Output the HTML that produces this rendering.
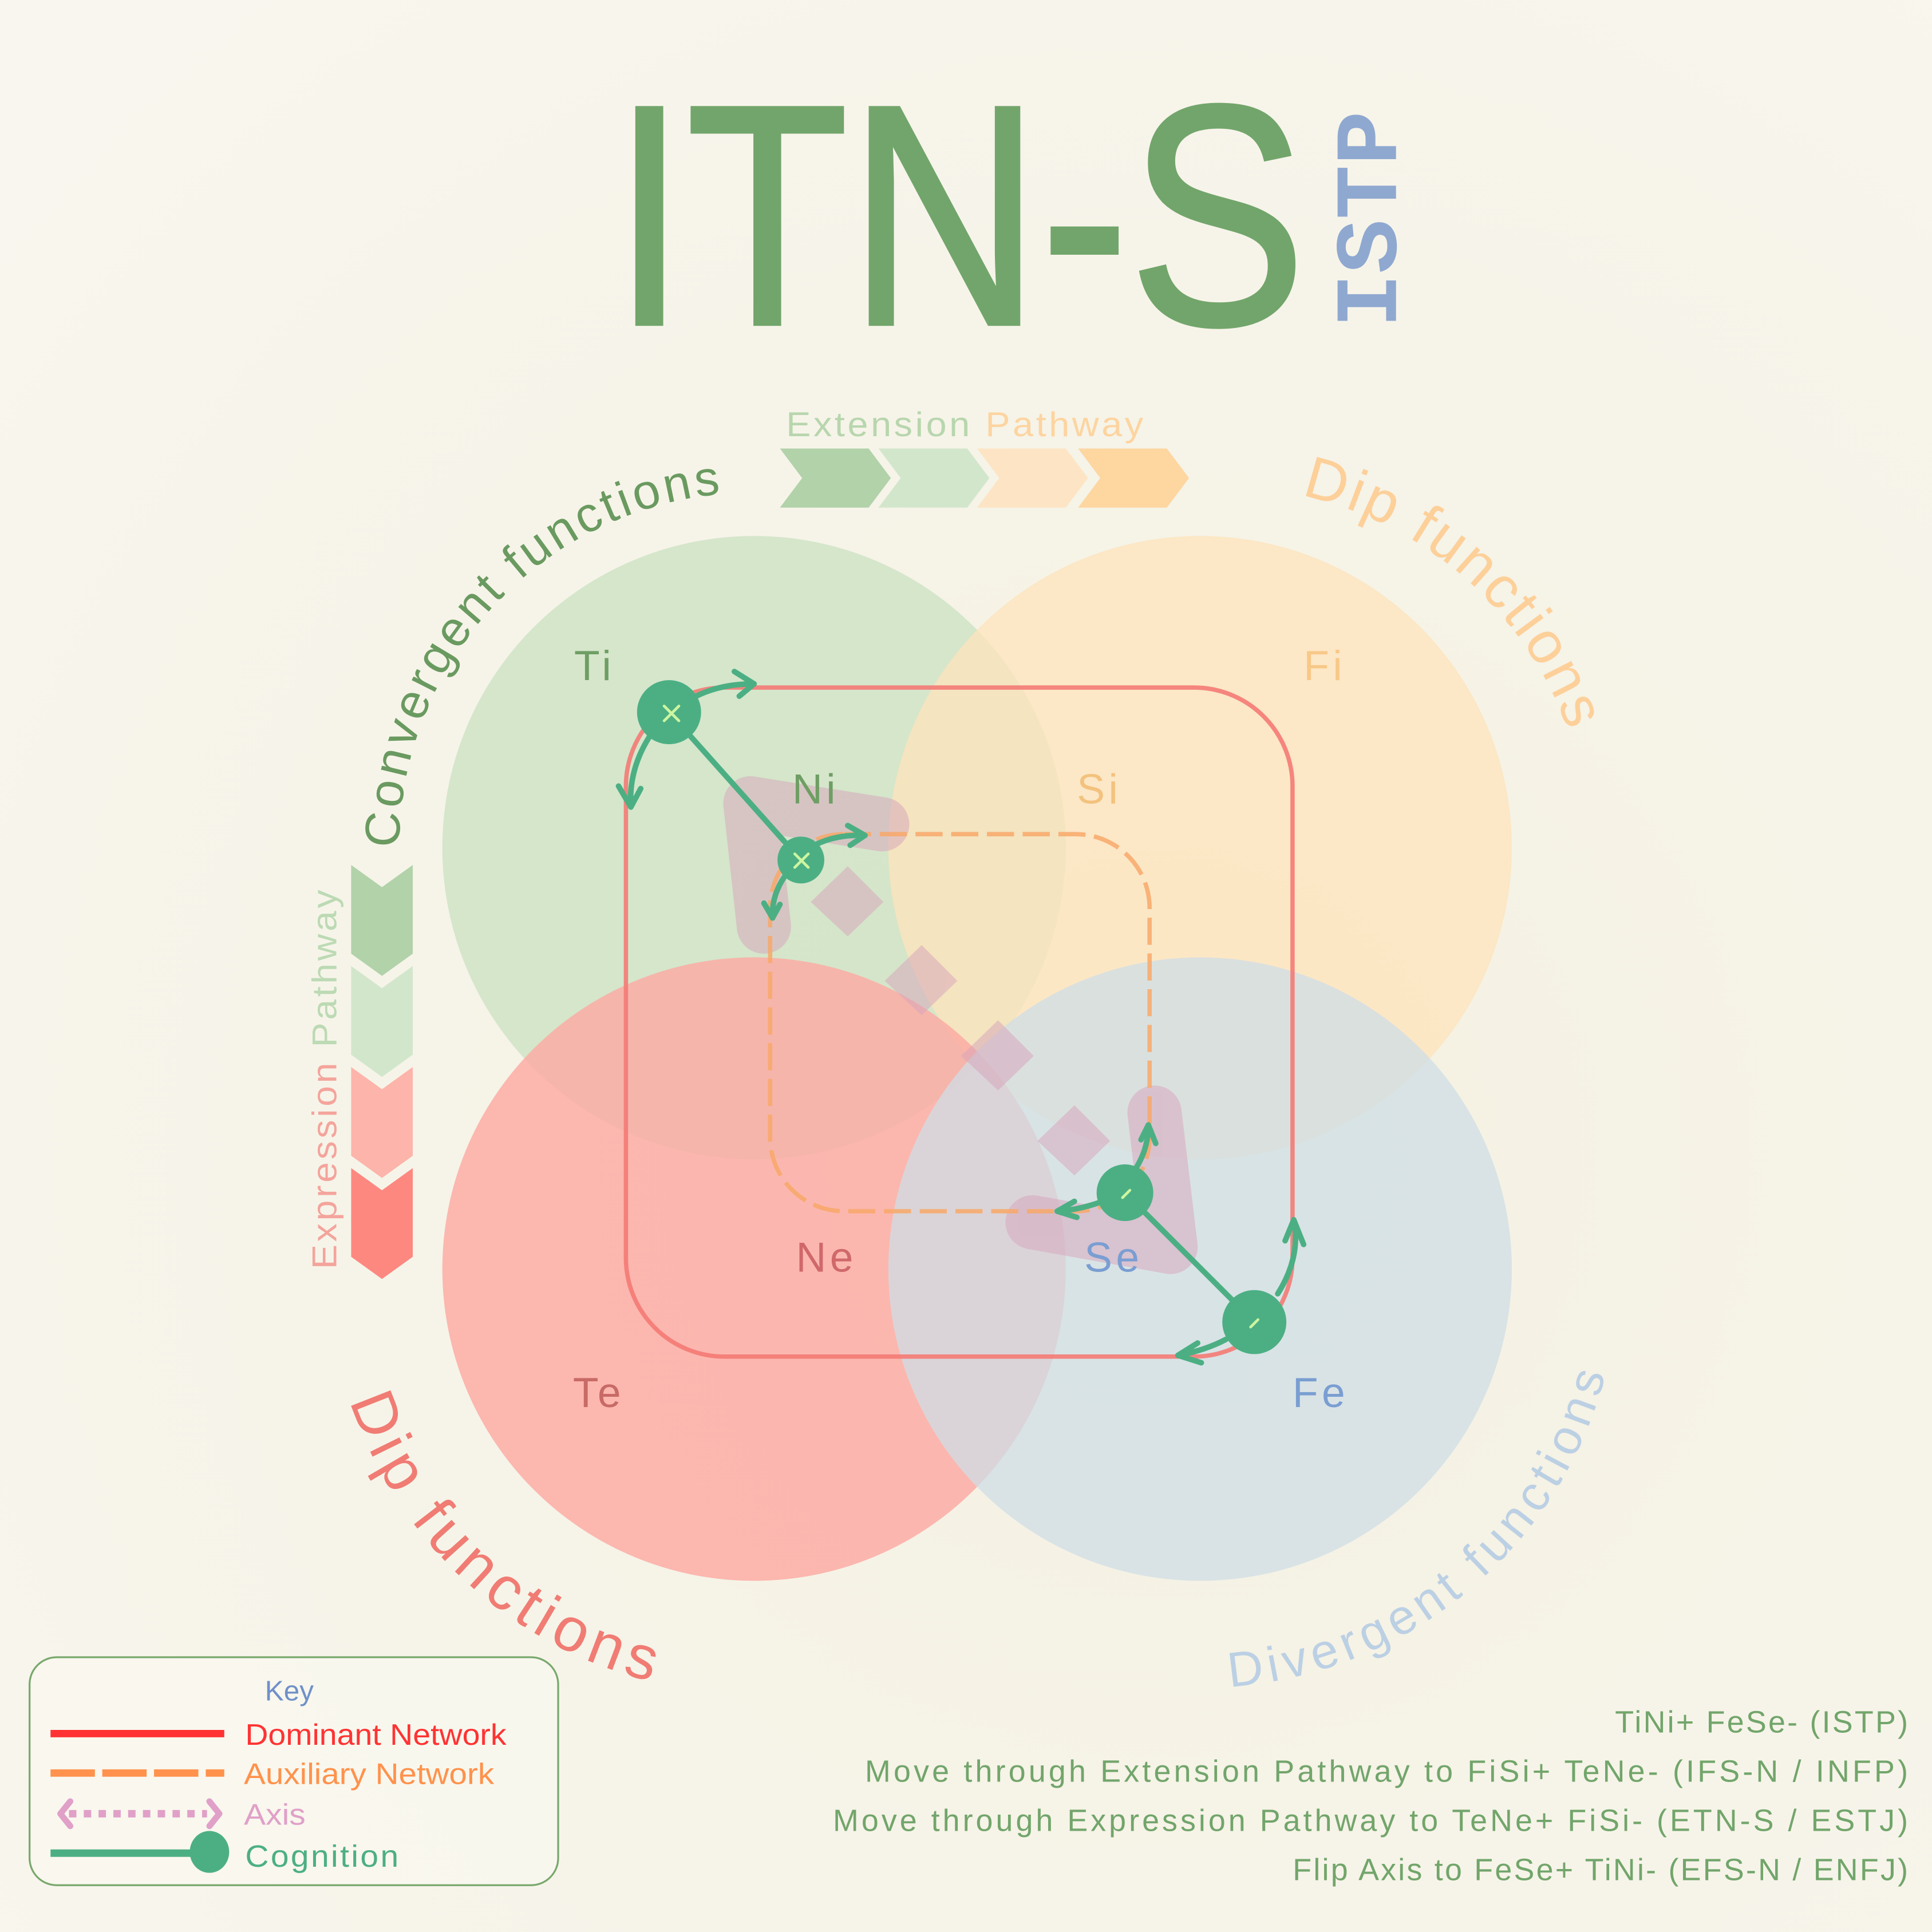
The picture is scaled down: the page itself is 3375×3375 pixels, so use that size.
<!DOCTYPE html>
<html><head><meta charset="utf-8"><style>html,body{margin:0;padding:0;background:#f6f4ea}svg{display:block}</style></head>
<body>
<svg width="3375" height="3375" viewBox="0 0 1568 1568" xmlns="http://www.w3.org/2000/svg" font-family="Liberation Sans, DejaVu Sans, sans-serif">
<defs>
<radialGradient id="bg" cx="0.6" cy="0.6" r="0.8"><stop offset="0" stop-color="#f4f1e2"/><stop offset="1" stop-color="#f8f6ee"/></radialGradient>
<path id="arcConv" d="M 324,688 A 288 288 0 0 1 662,404"/>
<path id="arcDipTR" d="M 1056,402 A 298 298 0 0 1 1290,688"/>
<path id="arcDipBL" d="M 284,1137 A 345 345 0 0 0 612,1375"/>
<path id="arcDiv" d="M 998,1369 A 340 340 0 0 0 1314,1030"/>
</defs>
<rect width="1568" height="1568" fill="url(#bg)"/>

<!-- title -->
<text x="497" y="263" font-size="255" fill="#72a56b" stroke="#72a56b" stroke-width="3" textLength="563" lengthAdjust="spacingAndGlyphs">ITN-S</text>
<text transform="translate(1133,266) rotate(-90)" font-family="Liberation Mono, DejaVu Sans Mono, monospace" font-size="72" font-weight="bold" fill="#8fa8d0" textLength="176" lengthAdjust="spacingAndGlyphs">ISTP</text>

<!-- extension pathway -->
<text x="638" y="354" font-size="28" letter-spacing="2" textLength="292" lengthAdjust="spacingAndGlyphs"><tspan fill="#b8d6ae">Extension </tspan><tspan fill="#fdd4a0">Pathway</tspan></text>
<polygon points="633,364 705,364 723,388 705,412 633,412 651,388" fill="#b2d2aa"/>
<polygon points="713,364 785,364 803,388 785,412 713,412 731,388" fill="#d2e6cc"/>
<polygon points="793,364 865,364 883,388 865,412 793,412 811,388" fill="#fde4c4"/>
<polygon points="875,364 947,364 965,388 947,412 875,412 893,388" fill="#fdd6a0"/>

<!-- expression pathway -->
<text transform="translate(273,1030) rotate(-90)" font-size="28" letter-spacing="2" textLength="310" lengthAdjust="spacingAndGlyphs"><tspan fill="#f4a49c">Expression </tspan><tspan fill="#bcdab4">Pathway</tspan></text>
<polygon points="285,702 310,720 335,702 335,774 310,792 285,774" fill="#b2d2aa"/>
<polygon points="285,784 310,802 335,784 335,856 310,874 285,856" fill="#d2e6cc"/>
<polygon points="285,866 310,884 335,866 335,938 310,956 285,938" fill="#fdb4aa"/>
<polygon points="285,948 310,966 335,948 335,1020 310,1038 285,1020" fill="#fd8880"/>

<!-- circles -->
<circle cx="612" cy="688" r="253" fill="#cfe3c6" opacity="0.85"/>
<circle cx="974" cy="688" r="253" fill="#fee3bb" opacity="0.75"/>
<circle cx="612" cy="1030" r="253" fill="#fdaaa2" opacity="0.82"/>
<circle cx="974" cy="1030" r="253" fill="#cfdde6" opacity="0.75"/>

<!-- arc labels -->
<text font-size="40" fill="#6a9a60" letter-spacing="2.5"><textPath href="#arcConv">Convergent  functions</textPath></text>
<text font-size="48" fill="#fdd09a" letter-spacing="2"><textPath href="#arcDipTR">Dip functions</textPath></text>
<text font-size="50" fill="#f07c74" letter-spacing="5"><textPath href="#arcDipBL">Dip functions</textPath></text>
<text font-size="40" fill="#bcd0e4" letter-spacing="4.5"><textPath href="#arcDiv">Divergent functions</textPath></text>

<!-- axis pink shapes -->
<g opacity="0.5" fill="#d8a4bc">
<path d="M 620,752 L 609,652 L 716,669" fill="none" stroke="#d8a4bc" stroke-width="44" stroke-linecap="round" stroke-linejoin="round"/>
<path d="M 937,903 L 950,1012 L 838,992" fill="none" stroke="#d8a4bc" stroke-width="44" stroke-linecap="round" stroke-linejoin="round"/>
<polygon points="688,703 717,732 688,760 658,732"/>
<polygon points="748,767 777,796 748,824 718,796"/>
<polygon points="810,828 839,857 810,885 780,857"/>
<polygon points="872,897 901,926 872,954 842,926"/>
</g>

<!-- networks -->
<rect x="508" y="558" width="541" height="543" rx="80" fill="none" stroke="#f47a74" stroke-width="3.5" opacity="0.9"/>
<rect x="625" y="677" width="308" height="306" rx="60" fill="none" stroke="#f8a868" stroke-width="3.5" stroke-dasharray="22,7" opacity="0.85"/>

<!-- function labels -->
<g font-size="34" letter-spacing="3">
<text x="466" y="552" fill="#6f9e64">Ti</text>
<text x="643" y="652" fill="#6f9e64">Ni</text>
<text x="874" y="652" fill="#f3c27e">Si</text>
<text x="1058" y="552" fill="#f8c888">Fi</text>
<text x="646" y="1032" fill="#d0686a">Ne</text>
<text x="880" y="1032" fill="#7a9ed2">Se</text>
<text x="465" y="1142" fill="#c86a66">Te</text>
<text x="1049" y="1142" fill="#7a9ed2">Fe</text>
</g>

<!-- cognition -->
<g stroke="#4caf84" fill="none" stroke-width="4.5" stroke-linecap="round" stroke-linejoin="round">
<line x1="543" y1="578" x2="650" y2="698"/>
<line x1="913" y1="968" x2="1018" y2="1073"/>
<path d="M 565,565 Q 585,555 612,555"/><path d="M 596,545 L 612,555 L 600,565"/>
<path d="M 527,598 Q 510,625 512,655"/><path d="M 502,638 L 512,655 L 520,640"/>
<path d="M 663,685 Q 680,677 702,678"/><path d="M 688,670 L 702,678 L 690,686"/>
<path d="M 637,711 Q 626,727 627,745"/><path d="M 620,733 L 627,745 L 633,734"/>
<path d="M 922,948 Q 932,932 932,913"/><path d="M 926,925 L 932,913 L 938,928"/>
<path d="M 892,976 Q 875,982 858,983"/><path d="M 872,975 L 858,983 L 874,988"/>
<path d="M 1037,1050 Q 1056,1020 1050,990"/><path d="M 1043,1007 L 1050,990 L 1058,1010"/>
<path d="M 995,1087 Q 978,1096 956,1100"/><path d="M 972,1090 L 956,1100 L 975,1106"/>
</g>
<g fill="#4caf84">
<circle cx="543" cy="578" r="26"/>
<circle cx="650" cy="698" r="19"/>
<circle cx="913" cy="968" r="23"/>
<circle cx="1018" cy="1073" r="26"/>
</g>
<g stroke="#cdf5a0" stroke-width="2.2" stroke-linecap="round">
<path d="M 539,573 L 551,585 M 551,573 L 539,585"/>
<path d="M 645,693 L 656,704 M 656,693 L 645,704"/>
<path d="M 911,972 L 917,966"/>
<path d="M 1015,1077 L 1021,1071"/>
</g>

<!-- legend -->
<rect x="24" y="1345" width="429" height="185" rx="22" fill="#f9f8f0" fill-opacity="0.7" stroke="#78a86c" stroke-width="1.5"/>
<text x="215" y="1380" font-size="23" fill="#7090c8">Key</text>
<line x1="41" y1="1407" x2="182" y2="1407" stroke="#ff3333" stroke-width="6"/>
<text x="199" y="1416" font-size="24" fill="#ff3333" textLength="212" lengthAdjust="spacingAndGlyphs">Dominant Network</text>
<line x1="41" y1="1439" x2="182" y2="1439" stroke="#ff924c" stroke-width="6" stroke-dasharray="36,6"/>
<text x="198" y="1448" font-size="24" fill="#ff924c" textLength="203" lengthAdjust="spacingAndGlyphs">Auxiliary Network</text>
<line x1="56" y1="1472" x2="168" y2="1472" stroke="#e0a0c8" stroke-width="6" stroke-dasharray="6,6"/>
<path d="M 57,1462 L 49,1472 L 57,1482 M 170,1462 L 178,1472 L 170,1482" fill="none" stroke="#e0a0c8" stroke-width="5" stroke-linecap="round" stroke-linejoin="round"/>
<text x="198" y="1481" font-size="24" fill="#e0a0c8" textLength="50" lengthAdjust="spacingAndGlyphs">Axis</text>
<line x1="41" y1="1504" x2="165" y2="1504" stroke="#4caf84" stroke-width="6"/>
<ellipse cx="170" cy="1503" rx="16" ry="17" fill="#4caf84"/>
<text x="199" y="1515" font-size="25" fill="#4caf84" letter-spacing="1.5" textLength="126" lengthAdjust="spacingAndGlyphs">Cognition</text>

<!-- right text -->
<g font-size="25" fill="#72a56b" text-anchor="end" letter-spacing="1.5">
<text x="1550" y="1406">TiNi+ FeSe- (ISTP)</text>
<text x="1550" y="1446" textLength="848" lengthAdjust="spacing">Move through Extension Pathway to FiSi+ TeNe- (IFS-N / INFP)</text>
<text x="1550" y="1486" textLength="874" lengthAdjust="spacing">Move through Expression Pathway to TeNe+ FiSi- (ETN-S / ESTJ)</text>
<text x="1550" y="1526">Flip Axis to FeSe+ TiNi- (EFS-N / ENFJ)</text>
</g>
</svg>
</body></html>
